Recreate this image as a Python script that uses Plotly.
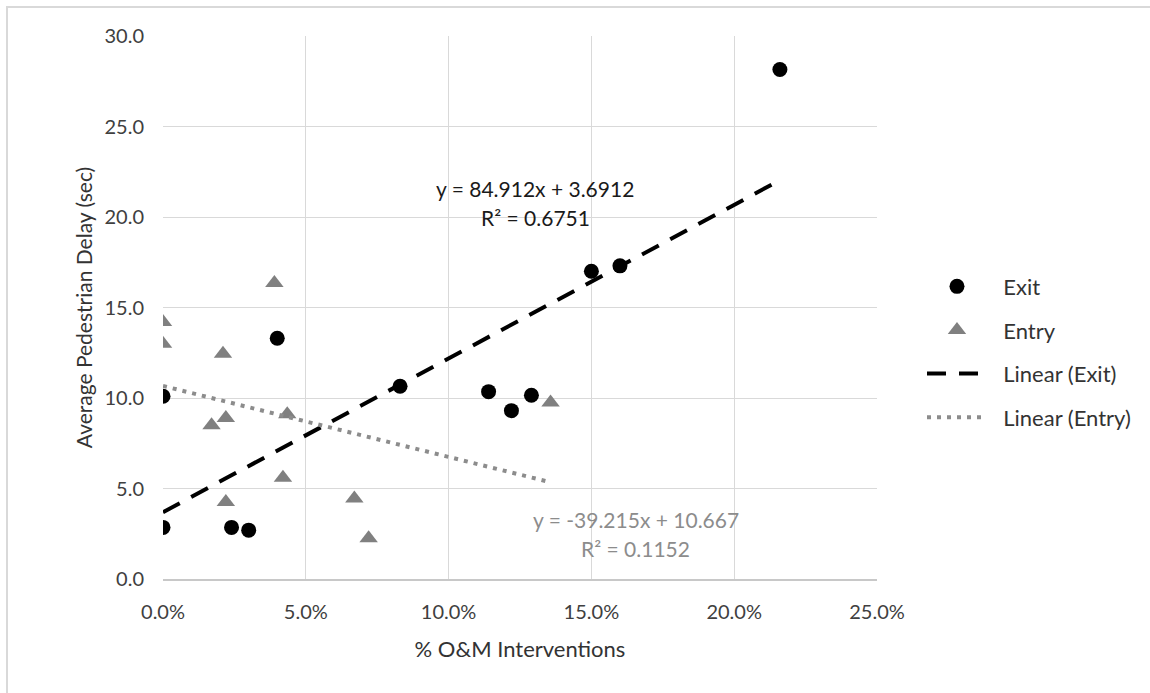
import numpy as np
import plotly.graph_objects as go

# ---- data (x as fraction of interventions, y in seconds) ----
exit_x = [0.000, 0.000, 0.024, 0.030, 0.040, 0.083, 0.114, 0.122, 0.129, 0.150, 0.160, 0.216]
exit_y = [10.1, 2.85, 2.85, 2.7, 13.3, 10.65, 10.35, 9.3, 10.15, 17.0, 17.3, 28.15]

entry_x = [0.000, 0.000, 0.021, 0.039, 0.022, 0.017, 0.0435, 0.042, 0.022, 0.067, 0.072, 0.1357]
entry_y = [14.2, 13.0, 12.45, 16.35, 8.9, 8.5, 9.1, 5.6, 4.25, 4.45, 2.25, 9.75]

exit_slope, exit_intercept, exit_r2 = 84.912, 3.6912, 0.6751
entry_slope, entry_intercept, entry_r2 = -39.215, 10.667, 0.1152

x_ticks = [0.0, 0.05, 0.10, 0.15, 0.20, 0.25]
y_ticks = [0.0, 5.0, 10.0, 15.0, 20.0, 25.0, 30.0]

FONT = "Lato"
GRID = "#d9d9d9"
GRAY = "#808080"
TXT = "#333333"
NB = "\u00a0\u00a0"

fig = go.Figure()

fig.add_trace(go.Scatter(
    x=exit_x, y=exit_y, mode="markers", name=NB + "Exit", legendgroup="a",
    marker=dict(symbol="circle", size=15, color="black"),
))
fig.add_trace(go.Scatter(
    x=entry_x, y=entry_y, mode="markers", name=NB + "Entry", legendgroup="b",
    marker=dict(symbol="triangle-up", size=16, color=GRAY),
))

ex = np.array([min(exit_x), max(exit_x)])
fig.add_trace(go.Scatter(
    x=ex, y=exit_slope * ex + exit_intercept, mode="lines", name=NB + "Linear (Exit)",
    legendgroup="c", line=dict(color="black", width=4, dash="19px,13px"),
))
nx = np.array([min(entry_x), max(entry_x)])
fig.add_trace(go.Scatter(
    x=nx, y=entry_slope * nx + entry_intercept, mode="lines", name=NB + "Linear (Entry)",
    legendgroup="d", line=dict(color="#8c8c8c", width=4, dash="4px,6px"),
))

def eq_text(m, b):
    sign = "+" if b >= 0 else "-"
    return f"y = {m:g}x {sign} {abs(b):g}"

annots = [
    dict(x=0.1304, y=21.6, text=eq_text(exit_slope, exit_intercept), color="#1a1a1a"),
    dict(x=0.1304, y=20.0, text=f"R² = {exit_r2:.4f}", color="#1a1a1a"),
    dict(x=0.1655, y=3.27, text=eq_text(entry_slope, entry_intercept), color="#8c8c8c"),
    dict(x=0.1655, y=1.67, text=f"R² = {entry_r2:.4f}", color="#8c8c8c"),
]
for a in annots:
    fig.add_annotation(x=a["x"], y=a["y"], xref="x", yref="y", text=a["text"],
                       showarrow=False, font=dict(family=FONT, size=21, color=a["color"]))

L, R, T, B = 163, 273, 36, 114
W, H = 1150, 693
pw = W - L - R
ph = H - T - B
fig.add_shape(type="rect", xref="paper", yref="paper",
              x0=(7 - L) / pw, x1=(W + 10 - L) / pw,
              y0=-(H + 10 - T - ph) / ph, y1=(ph + T - 7) / ph,
              line=dict(color=GRID, width=2), fillcolor="rgba(0,0,0,0)", layer="below")

fig.update_layout(
    width=W, height=H,
    margin=dict(l=L, r=R, t=T, b=B, autoexpand=False),
    paper_bgcolor="white", plot_bgcolor="white",
    font=dict(family=FONT, size=20, color=TXT),
    showlegend=True,
    legend=dict(x=1.063, xanchor="left", y=0.418, yanchor="middle",
                font=dict(family=FONT, size=22, color=TXT),
                tracegroupgap=12, itemwidth=60, bgcolor="rgba(0,0,0,0)"),
    xaxis=dict(range=[0, 0.25], tickvals=x_ticks, tickformat=".1%",
               showgrid=True, gridcolor=GRID, gridwidth=1,
               showline=True, linecolor="#c8c8c8", linewidth=1.5,
               zeroline=False, ticks="", ticklabelstandoff=14,
               title=dict(text="% O&M Interventions", standoff=20,
                          font=dict(family=FONT, size=22, color=TXT)),
               tickfont=dict(family=FONT, size=20, color="#404040"), automargin=False),
    yaxis=dict(range=[0, 30], tickvals=y_ticks, tickformat=".1f",
               showgrid=True, gridcolor=GRID, gridwidth=1,
               showline=False, zeroline=False, ticks="", ticklabelstandoff=18,
               title=dict(text="Average Pedestrian Delay (sec)", standoff=6,
                          font=dict(family=FONT, size=21, color=TXT)),
               tickfont=dict(family=FONT, size=20, color="#404040"), automargin=False),
)

fig.write_html("out.html", config={"displayModeBar": False},
               post_script="document.body.style.margin='0px';")
